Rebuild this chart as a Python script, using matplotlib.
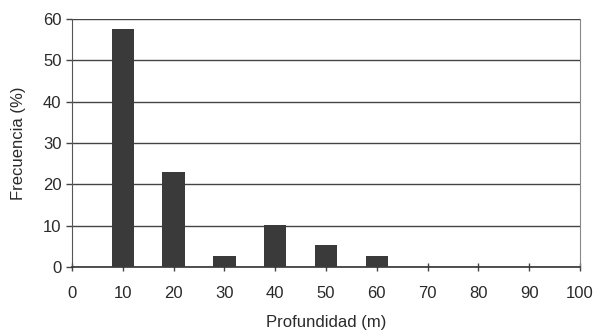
import matplotlib
matplotlib.use("Agg")
from matplotlib import pyplot as plt

plt.rcParams['font.family'] = ['Liberation Sans', 'DejaVu Sans']

profundidad = [10, 20, 30, 40, 50, 60]
frecuencia = [57.6, 23.0, 2.7, 10.1, 5.3, 2.7]
xticks = [0, 10, 20, 30, 40, 50, 60, 70, 80, 90, 100]
yticks = [0, 10, 20, 30, 40, 50, 60]

fig = plt.figure(figsize=(5.97, 3.35), dpi=100)
ax = fig.add_axes([0.1206, 0.203, 0.851, 0.740])

ax.bar(profundidad, frecuencia, width=4.4, color='#3a3a3a', zorder=3)
ax.set_xlim(0, 100)
ax.set_ylim(0, 60)
ax.set_xticks(xticks)
ax.set_yticks(yticks)
ax.yaxis.grid(True, color='#444444', linewidth=1.0, zorder=1)

ax.spines['top'].set_visible(False)
ax.spines['right'].set_color('#888888')
ax.spines['right'].set_linewidth(0.8)
ax.spines['left'].set_color('#555555')
ax.spines['bottom'].set_color('#333333')
ax.spines['bottom'].set_linewidth(1.2)

ax.tick_params(axis='x', direction='inout', length=6, width=1, colors='#444444',
               labelcolor='#2a2a2a', labelsize=12, pad=11)
ax.tick_params(axis='y', direction='out', length=4, width=1, colors='#444444',
               labelcolor='#2a2a2a', labelsize=12)

ax.set_xlabel("Profundidad (m)", fontsize=12, color='#2a2a2a', labelpad=10)
ax.set_ylabel("Frecuencia (%)", fontsize=12, color='#2a2a2a', labelpad=12)

plt.savefig("out.png", dpi=100)
